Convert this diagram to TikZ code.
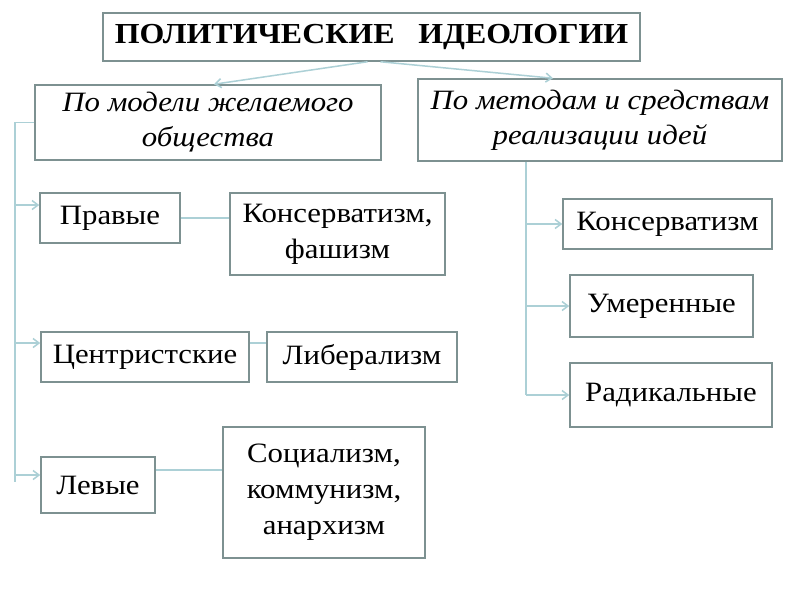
\documentclass[tikz,border=0pt]{standalone}
\usepackage{fontspec}
\setmainfont[FakeStretch=1.1]{Liberation Serif}
\usetikzlibrary{arrows.meta,positioning}

\definecolor{boxline}{RGB}{125,145,145}
\definecolor{linkline}{RGB}{172,208,214}

\tikzset{
  box/.style={draw=boxline, line width=1.5pt, fill=white, inner sep=0pt,
    align=center, font=\fontsize{28}{36}\selectfont},
  link/.style={draw=linkline, line width=1.5pt},
  arr/.style={link, -{Straight Barb[length=6pt,width=9pt]}}
}

\begin{document}
\begin{tikzpicture}[x=1pt,y=-1pt]
    \useasboundingbox[fill=white] (0,0) rectangle (800,600);

    % top and second row
    \node[box, minimum width=537pt, minimum height=48pt,
      font=\fontsize{29}{36}\bfseries] (title) at (371.5,37)
      {ПОЛИТИЧЕСКИЕ\ \ \ ИДЕОЛОГИИ};
    \node[box, minimum width=346pt, minimum height=75pt,
      font=\fontsize{28}{35}\itshape] (model) at (208,122.5)
      {По модели желаемого\\общества};
    \node[box, minimum width=364pt, minimum height=82pt,
      font=\fontsize{28}{35}\itshape] (method) at (600,120)
      {По методам и средствам\\реализации идей};

    % left column
    \node[box, minimum width=140pt, minimum height=50pt] (right) at (110,218) {Правые};
    \node[box, minimum width=215pt, minimum height=82pt] (cons) at (337.5,234) {Консерватизм,\\фашизм};
    \node[box, minimum width=208pt, minimum height=50pt] (centr) at (145,357) {Центристские};
    \node[box, minimum width=190pt, minimum height=50pt] (lib) at (362,357) {Либерализм};
    \node[box, minimum width=114pt, minimum height=56pt] (left) at (98,485) {Левые};
    \node[box, minimum width=202pt, minimum height=131pt] (soc) at (324,492.5) {Социализм,\\коммунизм,\\анархизм};

    % right column
    \node[box, minimum width=209pt, minimum height=50pt] (mcons) at (667.5,224) {Консерватизм};
    \node[box, minimum width=183pt, minimum height=62pt] (moder) at (661.5,306) {Умеренные};
    \node[box, minimum width=202pt, minimum height=64pt] (radic) at (671,395) {Радикальные};

    % from the title
    \draw[arr] ([xshift=-4pt]title.south) -- ([xshift=6pt]model.north);
    \draw[arr] ([xshift=9pt]title.south) -- ([xshift=-47pt]method.north);

    % left bar
    \coordinate (ltop) at (15,122.5);
    \coordinate (lend) at (15,482);
    \coordinate (aright) at ([yshift=13pt]right.west);
    \coordinate (acentr) at ([yshift=14pt]centr.west);
    \coordinate (aleft) at ([yshift=10pt]left.west);
    \draw[link] (model.west) -- (ltop) -- (lend);
    \foreach \n in {aright,acentr,aleft}
      \draw[arr] (ltop |- \n) -- (\n);

    % pairs
    \draw[link] (right.east) -- (right.east -| cons.west);
    \coordinate (bcentr) at ([yshift=14pt]centr.east);
    \draw[link] (bcentr) -- (bcentr -| lib.west);
    \coordinate (bleft) at ([yshift=15pt]left.east);
    \draw[link] (bleft) -- (bleft -| soc.west);

    % right bar
    \coordinate (rtop) at ([xshift=-74pt]method.south);
    \coordinate (rend) at (rtop |- radic.west);
    \draw[link] (rtop) -- (rend);
    \foreach \n in {mcons,moder,radic}
      \draw[arr] (rtop |- \n.west) -- (\n.west);
\end{tikzpicture}
\end{document}
